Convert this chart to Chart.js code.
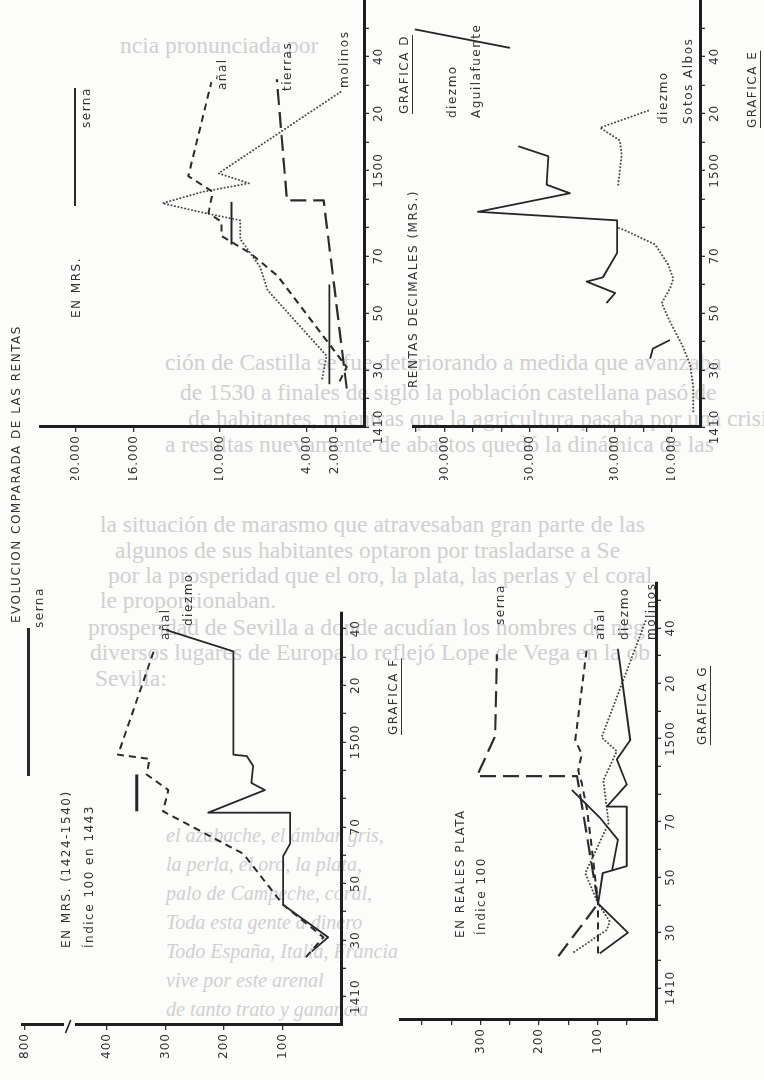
<!DOCTYPE html>
<html>
<head>
<meta charset="utf-8">
<script src="https://cdn.jsdelivr.net/npm/chart.js@4.4.1/dist/chart.umd.min.js"></script>
<style>
html, body { margin: 0; padding: 0; background: #fcfcfb; }
#page { position: relative; width: 764px; height: 1080px; overflow: hidden; background: #fcfcfb; }
.plate { position: absolute; left: 0; top: 0; transform-origin: 0 0; }
.plate canvas { display: block; }
.ghost { position: absolute; white-space: nowrap; font: 23.5px 'Liberation Serif', serif; color: #d0d0d0; line-height: 26px; }
.ghost.poem { font-style: italic; font-size: 20px; }
.note { position: absolute; white-space: nowrap; transform-origin: 0 0; transform: rotate(-90deg) translateY(-50%);
        font: 12px 'DejaVu Sans', sans-serif; letter-spacing: 1.5px; color: #333; line-height: 14px; }
.note.u { text-decoration: underline; text-underline-offset: 4px; text-decoration-thickness: 1.4px; }
.key { position: absolute; background: #2a2a2a; }
</style>
</head>
<body>
<div id="page"></div>
<script>
// Evolución comparada de las rentas - gráficas D, E, F, G (página girada)

// --- eje de años, común a las cuatro gráficas ---
const yearTicks = [1410, 1420, 1430, 1440, 1450, 1460, 1470, 1480, 1490, 1500, 1510, 1520, 1530, 1540, 1550];
const yearLabelAt = [1410, 1430, 1450, 1470, 1500, 1520, 1540];
const yearLabelText = ['1410', '30', '50', '70', '1500', '20', '40'];

// --- GRAFICA D : en mrs. ---
const dTicks = [2000, 4000, 10000, 16000, 20000];
const dAnalYears = [1426, 1431, 1463, 1471, 1477, 1482, 1485, 1492.5, 1498, 1531];
const dAnalValues = [1700, 1200, 6000, 7900, 9900, 9900, 10800, 10500, 12200, 10600];
const dTierrasYears = [1423.5, 1489.5, 1489.5, 1532];
const dTierrasValues = [1200, 2800, 5350, 6050];
const dMolinosYears = [1427, 1435, 1458, 1466, 1476, 1482.5, 1485, 1488.5, 1492.5, 1495.5, 1499, 1528];
const dMolinosValues = [2900, 2600, 6700, 7200, 8600, 8600, 11000, 14000, 11200, 8000, 10100, 1500];
const dSernaYears = [1425, 1460, 1467, 1474, 1489];
const dSernaValues = [2400, 2400, null, 9200, 9200];

// --- GRAFICA E : rentas decimales (mrs.) ---
const eTicks = [10000, 20000, 30000, 40000, 50000, 60000, 70000, 80000, 90000, 100000];
const eTickShown = [10000, 30000, 60000, 90000];
const eAguilaYears = [1434, 1437.5, 1440.5, 1447, 1453.5, 1457, 1461, 1462.5, 1471, 1482.5, 1485.5, 1492, 1495, 1505, 1508.5, 1525, 1543, 1549.5];
const eAguilaValues = [17600, 16600, 10600, null, 32900, 29900, 39900, 34200, 29200, 29200, 78200, 45800, 54000, 53400, 64000, null, 66900, 100400];
const eSotosYears = [1415.5, 1424.5, 1432, 1439, 1447, 1453.5, 1458.5, 1462, 1467, 1474, 1476.5, 1479, 1480, 1488, 1495, 1505.5, 1510.5, 1515, 1521];
const eSotosValues = [2400, 2400, 3500, 6400, 10600, 13500, 10600, 9400, 11200, 15800, 21100, 26400, 29300, null, 28800, 27600, 28200, 35200, 18200];

// --- GRAFICA F : en mrs. (1424-1540), índice 100 en 1443 ---
const fTicks = [100, 200, 300, 400, 540];
const fTickText = ['100', '200', '300', '400', '800'];
const fAnalYears = [1424, 1431, 1442.5, 1460.5, 1475.5, 1483, 1488.5, 1494, 1495.5, 1532];
const fAnalValues = [60, 30, 99, 167, 304, 295, 332, 327, 381, 320];
const fDiezmoYears = [1426, 1431, 1442.5, 1459.5, 1464, 1475, 1475, 1483, 1485.5, 1491.5, 1495, 1495.5, 1532, 1539.5];
const fDiezmoValues = [50, 22, 99, 99, 87, 87, 227, 130, 153, 150, 161, 184, 184, 298];
const fSernaYears = [1475.5, 1488.5];
const fSernaValues = [349, 349];

// --- GRAFICA G : en reales plata, índice 100 ---
const gTicks = [50, 100, 150, 200, 250, 300, 350, 400];
const gTickShown = [100, 200, 300];
const gSernaYears = [1421.5, 1440.5, 1486.5, 1486.5, 1501, 1530.5];
const gSernaValues = [167, 99, 135, 306, 275, 272];
const gAnalYears = [1422.5, 1440.5, 1461, 1474.5, 1484, 1488.5, 1494.5, 1499.5, 1533];
const gAnalValues = [99, 99, 110, 118, 127, 133, 127, 138, 118];
const gDiezmoYears = [1422.5, 1430, 1440.5, 1451.5, 1454, 1475.5, 1475.5, 1483.5, 1492.5, 1499.5, 1532.5];
const gDiezmoValues = [96, 48, 99, 91, 50, 50, 84, 50, 67, 44, 65];
const gOtroYears = [1452.5, 1463.5, 1471.5, 1481.5];
const gOtroValues = [75, 65, 96, 144];
const gMolinosYears = [1423, 1431, 1434, 1440.5, 1451.5, 1469.5, 1485, 1495.5, 1500.5, 1543.5];
const gMolinosValues = [140, 84, 79, 99, 121, 81, 90, 67, 93, 16];

const page = document.getElementById('page');

// texto de la otra cara que se transparenta: [x, y centro, texto, clase]
const ghostLines = [
  [120, 45, 'ncia pronunciada por', ''],
  [165, 362, 'ción de Castilla se fue deteriorando a medida que avanzaba', ''],
  [180, 392, 'de 1530 a finales de siglo la población castellana pasó de', ''],
  [188, 418, 'de habitantes, mientras que la agricultura pasaba por una crisis', ''],
  [165, 444, 'a resultas nuevamente de abastos quedó la dinámica de las', ''],
  [100, 524, 'la situación de marasmo que atravesaban gran parte de las', ''],
  [115, 550, 'algunos de sus habitantes optaron por trasladarse a Se', ''],
  [108, 575, 'por la prosperidad que el oro, la plata, las perlas y el coral', ''],
  [100, 600, 'le proporcionaban.', ''],
  [88, 627, 'prosperidad de Sevilla a donde acudían los hombres de neg', ''],
  [90, 652, 'diversos lugares de Europa lo reflejó Lope de Vega en la ob', ''],
  [95, 678, 'Sevilla:', ''],
  [166, 835, 'el azabache, el ámbar gris,', 'poem'],
  [166, 864, 'la perla, el oro, la plata,', 'poem'],
  [166, 893, 'palo de Campeche, coral,', 'poem'],
  [166, 922, 'Toda esta gente a dinero', 'poem'],
  [166, 951, 'Todo España, Italia, Francia', 'poem'],
  [166, 980, 'vive por este arenal', 'poem'],
  [166, 1009, 'de tanto trato y ganancia', 'poem']
];
ghostLines.forEach(([x, y, t, c]) => {
  const d = document.createElement('div');
  d.className = 'ghost ' + c;
  d.style.left = x + 'px'; d.style.top = (y - 13) + 'px';
  d.textContent = t;
  page.appendChild(d);
});

const STYLE = {
  solid: { borderDash: [], borderWidth: 1.8, borderColor: '#262626' },
  dash:  { borderDash: [7, 5], borderWidth: 2, borderColor: '#2b2b2b' },
  long:  { borderDash: [16, 7], borderWidth: 2.2, borderColor: '#2b2b2b' },
  dot:   { borderDash: [0.1, 3.4], borderWidth: 2, borderColor: '#4a4a4a', borderCapStyle: 'round' }
};

function series(years, values, kind) {
  return Object.assign({
    data: years.map((x, i) => ({ x: x, y: values[i] })),
    pointRadius: 0, tension: 0, fill: false, spanGaps: false, borderJoinStyle: 'round'
  }, STYLE[kind]);
}

const spacing = {
  id: 'spacing',
  beforeDraw(chart) { chart.ctx.letterSpacing = '1px'; }
};

// corte del eje de valores (gráfica F)
const axisBreak = {
  id: 'axisBreak',
  afterDraw(chart, args, opts) {
    if (!opts || opts.from === undefined) return;
    const { ctx, chartArea, scales } = chart;
    const y1 = scales.y.getPixelForValue(opts.to), y2 = scales.y.getPixelForValue(opts.from);
    const x = chartArea.left;
    ctx.save();
    ctx.clearRect(x - 9, y1, 18, y2 - y1);
    ctx.strokeStyle = '#222';
    ctx.lineWidth = 1.5;
    ctx.beginPath();
    ctx.moveTo(x - 8, y1 + 2);
    ctx.lineTo(x + 5, y2 - 4);
    ctx.stroke();
    ctx.restore();
  }
};

function drawPlate(g) {
  const W = g.B - g.T, H = g.R - g.L;
  const box = document.createElement('div');
  box.className = 'plate';
  box.style.width = W + 'px';
  box.style.height = H + 'px';
  box.style.transform = `translate(${g.L}px, ${g.B}px) rotate(-90deg)`;
  const cv = document.createElement('canvas');
  cv.width = W; cv.height = H;
  box.appendChild(cv);
  page.appendChild(box);
  const tickFont = { family: "'DejaVu Sans', sans-serif", size: 12 };
  new Chart(cv, {
    type: 'line',
    data: { datasets: g.datasets },
    plugins: [spacing, axisBreak],
    options: {
      responsive: false, animation: false, events: [],
      layout: { padding: { top: g.padTop, right: g.padRight, left: 0, bottom: 0 } },
      plugins: { legend: { display: false }, tooltip: { enabled: false }, axisBreak: g.brk || {} },
      scales: {
        x: {
          type: 'linear', min: g.xMin, max: g.xMax,
          afterFit: s => { s.height = H - g.axisV; },
          afterBuildTicks: s => { s.ticks = yearTicks.filter(v => v >= g.xMin && v <= g.xMax).map(v => ({ value: v })); },
          ticks: {
            autoSkip: false, maxRotation: 0, minRotation: 0, padding: 3, color: '#333', font: tickFont,
            callback: v => { const i = yearLabelAt.indexOf(v); return i < 0 ? '' : yearLabelText[i]; }
          },
          grid: { drawOnChartArea: false, drawTicks: true, tickLength: 5, color: '#333', lineWidth: 1.3 },
          border: { display: true, color: '#1e1e1e', width: 3 }
        },
        y: {
          type: 'linear', min: 0, max: g.yMax,
          afterFit: s => { s.width = g.yw; },
          afterBuildTicks: s => { s.ticks = g.yTicks.map(v => ({ value: v })); },
          ticks: { autoSkip: false, padding: 3, color: '#333', font: tickFont, callback: g.yLabel },
          grid: { drawOnChartArea: false, drawTicks: true, tickLength: 5, color: '#333', lineWidth: 1.3 },
          border: { display: true, color: '#1e1e1e', width: 3 }
        }
      }
    }
  });
}

const mil = v => (v / 1000) + '.000';

drawPlate({
  L: 20, T: 0, R: 400, B: 480, axisV: 344, yw: 53, padTop: 20, padRight: 0,
  xMin: 1410, xMax: 1559.8, yMax: 22500, yTicks: dTicks, yLabel: v => mil(v),
  datasets: [
    series(dAnalYears, dAnalValues, 'dash'),
    series(dTierrasYears, dTierrasValues, 'long'),
    series(dMolinosYears, dMolinosValues, 'dot'),
    series(dSernaYears, dSernaValues, 'solid')
  ]
});

drawPlate({
  L: 400, T: 0, R: 740, B: 480, axisV: 300, yw: 53, padTop: 13, padRight: 0,
  xMin: 1410, xMax: 1559.8, yMax: 101050, yTicks: eTicks,
  yLabel: v => eTickShown.includes(v) ? mil(v) : '',
  datasets: [
    series(eAguilaYears, eAguilaValues, 'solid'),
    series(eSotosYears, eSotosValues, 'dot')
  ]
});

drawPlate({
  L: 0, T: 560, R: 380, B: 1080, axisV: 341, yw: 55, padTop: 22, padRight: 52,
  xMin: 1400, xMax: 1545.9, yMax: 545, yTicks: fTicks,
  yLabel: v => fTickText[fTicks.indexOf(v)] || '',
  brk: { from: 455, to: 474 },
  datasets: [
    series(fAnalYears, fAnalValues, 'dash'),
    series(fDiezmoYears, fDiezmoValues, 'solid'),
    Object.assign(series(fSernaYears, fSernaValues, 'solid'), { borderWidth: 3 })
  ]
});

drawPlate({
  L: 380, T: 560, R: 700, B: 1080, axisV: 276, yw: 60, padTop: 20, padRight: 22,
  xMin: 1398.45, xMax: 1556.6, yMax: 437.6, yTicks: gTicks,
  yLabel: v => gTickShown.includes(v) ? String(v) : '',
  datasets: [
    series(gSernaYears, gSernaValues, 'long'),
    series(gAnalYears, gAnalValues, 'dash'),
    series(gDiezmoYears, gDiezmoValues, 'solid'),
    series(gOtroYears, gOtroValues, 'solid'),
    series(gMolinosYears, gMolinosValues, 'dot')
  ]
});

// rótulos girados: [texto, x centro, y inicio (abajo), clase]
const notes = [
  ['EVOLUCION COMPARADA DE LAS RENTAS', 16, 623, ''],
  ['serna', 86, 128, ''],
  ['EN MRS.', 76, 318, ''],
  ['añal', 222, 90, ''],
  ['tierras', 287, 91, ''],
  ['molinos', 344, 88, ''],
  ['GRAFICA D', 404, 114, 'u'],
  ['RENTAS DECIMALES (MRS.)', 413, 388, ''],
  ['diezmo', 452, 118, ''],
  ['Aguilafuente', 476, 118, ''],
  ['diezmo', 663, 124, ''],
  ['Sotos Albos', 688, 124, ''],
  ['GRAFICA E', 752, 128, 'u'],
  ['serna', 39, 628, ''],
  ['añal', 165, 640, ''],
  ['diezmo', 188, 626, ''],
  ['EN MRS. (1424-1540)', 66, 948, ''],
  ['Índice 100 en 1443', 89, 948, ''],
  ['GRAFICA F', 393, 735, 'u'],
  ['EN REALES PLATA', 460, 938, ''],
  ['Índice 100', 481, 935, ''],
  ['serna', 500, 625, ''],
  ['añal', 600, 640, ''],
  ['diezmo', 624, 640, ''],
  ['molinos', 651, 640, ''],
  ['GRAFICA G', 702, 745, 'u']
];
notes.forEach(([t, x, y, c]) => {
  const d = document.createElement('div');
  d.className = 'note ' + c;
  d.style.left = x + 'px'; d.style.top = y + 'px';
  d.textContent = t;
  page.appendChild(d);
});

// muestras de línea de la leyenda "serna"
[[74, 88, 2, 118], [27, 628, 2.5, 148]].forEach(([x, y, w, h]) => {
  const k = document.createElement('div');
  k.className = 'key';
  k.style.left = x + 'px'; k.style.top = y + 'px';
  k.style.width = w + 'px'; k.style.height = h + 'px';
  page.appendChild(k);
});
</script>
</body>
</html>
